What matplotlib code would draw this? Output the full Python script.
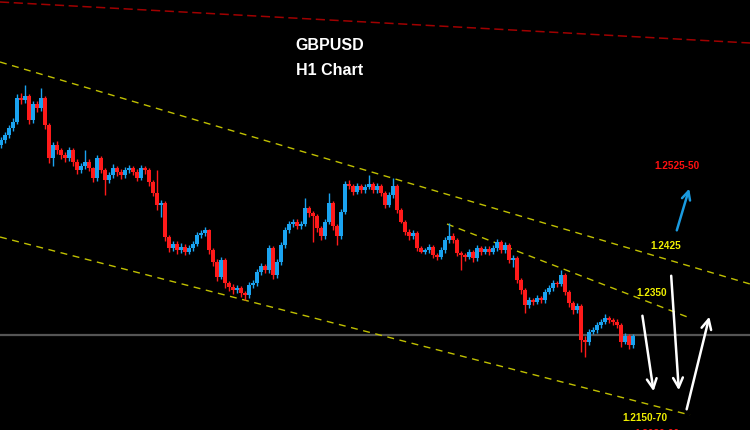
import matplotlib
matplotlib.use("Agg")
import matplotlib.pyplot as plt
import numpy as np

# ---------------- data (H1 candles, prices) ----------------
first_open = 1.2585
closes = [12593, 12601, 12612, 12622, 12660, 12657, 12663, 12625, 12651, 12644,
          12660, 12617, 12564, 12585, 12577, 12569, 12564, 12577, 12558, 12545,
          12551, 12558, 12548, 12532, 12564, 12545, 12529, 12537, 12548, 12542,
          12537, 12545, 12548, 12542, 12532, 12548, 12545, 12526, 12508, 12489,
          12492, 12438, 12420, 12427, 12417, 12422, 12414, 12420, 12427, 12441,
          12444, 12449, 12417, 12398, 12374, 12401, 12364, 12358, 12353, 12356,
          12348, 12345, 12361, 12364, 12382, 12391, 12385, 12420, 12377, 12398,
          12425, 12449, 12459, 12462, 12455, 12459, 12484, 12476, 12471, 12452,
          12439, 12462, 12492, 12455, 12439, 12478, 12523, 12519, 12510, 12519,
          12513, 12518, 12523, 12513, 12519, 12508, 12489, 12505, 12519, 12481,
          12462, 12446, 12439, 12444, 12420, 12414, 12417, 12422, 12409, 12406,
          12417, 12433, 12439, 12433, 12412, 12409, 12406, 12414, 12404, 12420,
          12414, 12419, 12414, 12420, 12430, 12417, 12425, 12401, 12404, 12369,
          12353, 12329, 12337, 12334, 12340, 12337, 12350, 12356, 12364, 12363,
          12377, 12350, 12332, 12321, 12327, 12273, 12270, 12286, 12289, 12297,
          12302, 12308, 12305, 12302, 12297, 12270, 12279, 12265, 12279]
highs = [12598, 12606, 12617, 12628, 12666, 12668, 12681, 12667, 12656, 12656,
         12676, 12664, 12620, 12590, 12592, 12581, 12574, 12582, 12580, 12562,
         12556, 12577, 12562, 12550, 12569, 12567, 12549, 12542, 12555, 12552,
         12546, 12550, 12553, 12552, 12546, 12553, 12552, 12549, 12529, 12545,
         12497, 12495, 12441, 12432, 12431, 12428, 12426, 12425, 12431, 12446,
         12449, 12454, 12451, 12420, 12402, 12406, 12404, 12368, 12362, 12361,
         12359, 12351, 12366, 12369, 12387, 12396, 12395, 12425, 12423, 12403,
         12430, 12454, 12464, 12466, 12466, 12464, 12500, 12488, 12480, 12474,
         12455, 12467, 12508, 12495, 12458, 12483, 12528, 12529, 12523, 12524,
         12522, 12523, 12537, 12526, 12524, 12522, 12511, 12510, 12532, 12523,
         12484, 12465, 12450, 12449, 12447, 12424, 12421, 12427, 12425, 12413,
         12422, 12438, 12460, 12444, 12436, 12416, 12413, 12419, 12417, 12425,
         12424, 12424, 12423, 12425, 12435, 12433, 12430, 12428, 12409, 12407,
         12372, 12356, 12342, 12341, 12345, 12344, 12355, 12361, 12369, 12368,
         12385, 12380, 12353, 12335, 12332, 12330, 12280, 12291, 12294, 12302,
         12307, 12315, 12312, 12309, 12306, 12300, 12284, 12283, 12283]
lows = [12580, 12589, 12597, 12608, 12618, 12650, 12652, 12618, 12620, 12638,
        12640, 12610, 12556, 12552, 12571, 12563, 12558, 12560, 12552, 12539,
        12540, 12546, 12543, 12526, 12528, 12540, 12505, 12524, 12533, 12536,
        12531, 12533, 12540, 12537, 12527, 12529, 12539, 12520, 12503, 12481,
        12470, 12432, 12414, 12415, 12411, 12412, 12409, 12410, 12416, 12424,
        12437, 12439, 12411, 12392, 12368, 12370, 12357, 12352, 12347, 12349,
        12342, 12337, 12340, 12356, 12360, 12377, 12380, 12381, 12371, 12373,
        12393, 12421, 12445, 12454, 12450, 12451, 12455, 12470, 12430, 12446,
        12433, 12435, 12458, 12449, 12425, 12435, 12474, 12514, 12505, 12506,
        12508, 12509, 12514, 12508, 12509, 12503, 12484, 12486, 12501, 12477,
        12460, 12441, 12433, 12435, 12415, 12412, 12410, 12412, 12404, 12401,
        12402, 12413, 12429, 12428, 12407, 12385, 12400, 12402, 12398, 12400,
        12409, 12410, 12409, 12410, 12416, 12412, 12413, 12396, 12390, 12364,
        12347, 12316, 12325, 12329, 12330, 12332, 12333, 12346, 12352, 12358,
        12359, 12345, 12326, 12315, 12316, 12254, 12246, 12265, 12282, 12285,
        12293, 12298, 12300, 12297, 12292, 12262, 12266, 12259, 12261]

current_price = 1.2281

# analysis lines: (time index, price) end points
red_line = [(-0.25, 1.28138), (187.25, 1.27482)]
upper_channel = [(-0.25, 1.27178), (187.25, 1.23626)]
lower_channel = [(-0.25, 1.24378), (172.25, 1.2153)]
inner_line = [(111.5, 1.24586), (172.25, 1.23082)]

white_arrows = [((160.25, 1.23162), (163.25, 1.21866)),
                ((167.5, 1.23802), (169.5, 1.21882)),
                ((171.25, 1.21578), (177.25, 1.23146))]
blue_arrows = [((168.75, 1.24442), (172.25, 1.25194)),
               ((168.0, 1.2150), (170.0, 1.2125))]

level_labels = [("1.2525-50", 169.0, 1.25514, "#ff1010"),
                ("1.2425", 166.25, 1.24234, "#f0f000"),
                ("1.2350", 162.75, 1.23482, "#f0f000"),
                ("1.2150-70", 161.0, 1.21482, "#f0f000"),
                ("1.2080-90", 164.0, 1.21226, "#ff1010")]

title_lines = [("GBPUSD", 82.25, 1.2745), ("H1 Chart", 82.25, 1.2705)]

# ---------------- plotting ----------------
c = np.array(closes) / 10000.0
h = np.array(highs) / 10000.0
l = np.array(lows) / 10000.0
o = np.concatenate([[first_open], c[:-1]])
x = np.arange(len(c))

fig = plt.figure(figsize=(7.5, 4.3), dpi=100)
fig.patch.set_facecolor("black")
ax = fig.add_axes([0, 0, 1, 1])
ax.set_facecolor("black")
ax.set_xlim(-0.25, 187.25)
ax.set_ylim(1.2817 - 0.00016 * 430, 1.2817)
ax.axis("off")

BLUE = "#1aa3f0"
RED = "#ff1a1a"
cols = [BLUE if cc >= oo else RED for oo, cc in zip(o, c)]

ax.vlines(x, l, h, colors=cols, linewidth=1.0, zorder=3)
bottoms = np.minimum(o, c)
heights = np.maximum(np.abs(c - o), 0.00014)
ax.bar(x, heights, bottom=bottoms, width=0.78, color=cols, linewidth=0, zorder=4)

ax.axhline(current_price, color="#555555", linewidth=1.6, zorder=2)

def seg(pts, **kw):
    (x0, y0), (x1, y1) = pts
    ax.plot([x0, x1], [y0, y1], **kw)

seg(red_line, color="#a00000", linewidth=1.1, dashes=(6, 3), zorder=1)
for ln in (upper_channel, lower_channel, inner_line):
    seg(ln, color="#c0c000", linewidth=1.0, dashes=(5, 4), zorder=2)

for (p0, p1) in white_arrows:
    ax.annotate("", xy=p1, xytext=p0,
                arrowprops=dict(arrowstyle="->,head_length=0.7,head_width=0.35",
                                color="white", lw=1.8), zorder=6)
for (p0, p1) in blue_arrows:
    ax.annotate("", xy=p1, xytext=p0,
                arrowprops=dict(arrowstyle="->,head_length=0.6,head_width=0.3",
                                color="#1a9be0", lw=1.8), zorder=6)

for txt, tx, ty, col in level_labels:
    ax.text(tx, ty, txt, color=col, fontsize=7.2, fontweight="bold",
            family="Liberation Sans", ha="center", va="center", zorder=7,
            clip_on=True)

for txt, tx, ty in title_lines:
    ax.text(tx, ty, txt, color="white", fontsize=11.5, fontweight="bold",
            family="Liberation Sans", ha="center", va="center", zorder=7)

fig.savefig("out.png", dpi=100, facecolor="black")
